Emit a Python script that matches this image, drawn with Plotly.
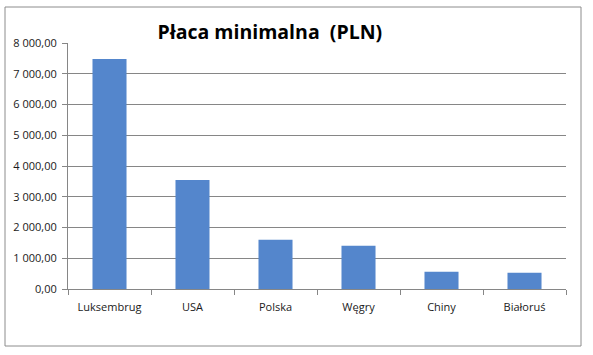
import plotly.graph_objects as go

categories = ["Luksembrug", "USA", "Polska", "Węgry", "Chiny", "Białoruś"]
values = [7480, 3545, 1600, 1405, 560, 530]
y_ticks = [0, 1000, 2000, 3000, 4000, 5000, 6000, 7000, 8000]

W, H = 593, 355
L, R, T, B = 68, 27, 43, 66
pw, ph = W - L - R, H - T - B

def px(x):
    return (x - L) / pw

def py(y):
    return (H - B - y) / ph

fig = go.Figure(go.Bar(x=categories, y=values, marker=dict(color="#5486CC", line=dict(width=0)), width=0.41))

fig.update_layout(
    width=W, height=H,
    margin=dict(l=L, r=R, t=T, b=B),
    paper_bgcolor="white", plot_bgcolor="white",
    separators=", ",
    font=dict(family="Open Sans", size=11, color="#1a1a1a"),
    title=dict(text="<b>Płaca minimalna  (PLN)</b>", x=0.455, xanchor="center", y=1 - 32 / H, yanchor="middle",
               font=dict(family="Open Sans", size=19.5, color="black")),
    showlegend=False,
    shapes=[dict(type="rect", xref="paper", yref="paper", x0=px(5), x1=px(581), y0=py(346), y1=py(7),
                 line=dict(color="#8c8c8c", width=1), fillcolor="rgba(0,0,0,0)", layer="below")],
)
fig.update_xaxes(showgrid=False, showline=True, linecolor="#868686", linewidth=1,
                 ticks="outside", tickson="boundaries", ticklen=5, tickcolor="#868686",
                 ticklabelstandoff=8, tickfont=dict(size=11), fixedrange=True)
fig.update_yaxes(range=[0, 8000], tickvals=y_ticks, tickformat=",.2f", showgrid=True, gridcolor="#868686",
                 gridwidth=1, showline=True, linecolor="#868686", linewidth=1, ticks="outside", ticklen=5,
                 tickcolor="#868686", zeroline=False, ticklabelstandoff=3, tickfont=dict(size=11),
                 fixedrange=True)

fig.write_html("out.html")
